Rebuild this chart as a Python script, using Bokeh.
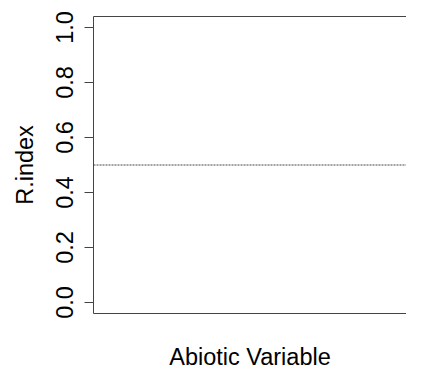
from bokeh.plotting import figure
from bokeh.models import LinearAxis, FixedTicker, Span, Range1d
from bokeh.embed import file_html
from bokeh.resources import INLINE

# data
y_ticks = [0.0, 0.2, 0.4, 0.6, 0.8, 1.0]
y_tick_labels = ["0.0", "0.2", "0.4", "0.6", "0.8", "1.0"]
y_limits = [-0.04, 1.04]
x_limits = [0.0, 1.0]
ref_value = 0.5
x_label = "Abiotic Variable"
y_label = "R.index"

FONT = "Liberation Sans"
FS = "23.5px"
LINE = "#444444"

p = figure(width=406, height=373, output_backend="svg", toolbar_location=None,
           x_axis_location=None, y_axis_location=None,
           x_range=Range1d(*x_limits), y_range=Range1d(*y_limits),
           min_border_left=93, min_border_right=0, min_border_top=16, min_border_bottom=60)
p.outline_line_color = None
p.grid.visible = False
p.background_fill_color = "white"
p.border_fill_color = "white"

# left axis
ya = LinearAxis(ticker=FixedTicker(ticks=y_ticks),
                major_label_overrides={t: l for t, l in zip(y_ticks, y_tick_labels)})
ya.major_label_orientation = "vertical"
ya.major_label_text_font = FONT
ya.major_label_text_font_size = FS
ya.major_label_text_color = "black"
ya.major_label_standoff = 12
ya.major_tick_in = 0
ya.major_tick_out = 9
ya.minor_tick_line_color = None
ya.axis_line_color = LINE
ya.major_tick_line_color = LINE
ya.axis_label = y_label
ya.axis_label_text_font = FONT
ya.axis_label_text_font_size = FS
ya.axis_label_text_font_style = "normal"
ya.axis_label_text_color = "black"
ya.axis_label_standoff = 15
p.add_layout(ya, "left")

# bottom axis (box line + label)
xa = LinearAxis(ticker=FixedTicker(ticks=[]))
xa.major_tick_line_color = None
xa.minor_tick_line_color = None
xa.major_label_text_font_size = "0px"
xa.axis_line_color = LINE
xa.axis_label = x_label
xa.axis_label_text_font = FONT
xa.axis_label_text_font_size = FS
xa.axis_label_text_font_style = "normal"
xa.axis_label_text_color = "black"
xa.axis_label_standoff = 30
p.add_layout(xa, "below")

# top axis (box line)
ta = LinearAxis(ticker=FixedTicker(ticks=[]))
ta.major_tick_line_color = None
ta.minor_tick_line_color = None
ta.major_label_text_font_size = "0px"
ta.axis_line_color = LINE
p.add_layout(ta, "above")

p.add_layout(Span(location=ref_value, dimension="width", line_color="#444444",
                  line_dash="2 1", line_width=1))

open("out.html", "w").write(file_html(p, INLINE))
